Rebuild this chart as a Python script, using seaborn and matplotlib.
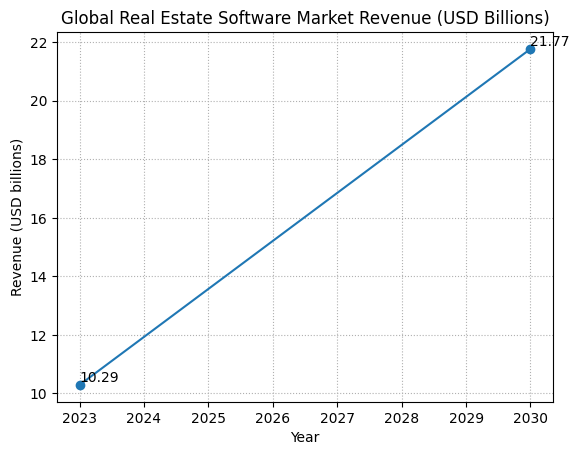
import matplotlib
matplotlib.use("Agg")
from matplotlib import pyplot as plt
import seaborn as sns

years = [2023, 2030]
revenue = [10.29, 21.77]
point_labels = ["10.29", "21.77"]

fig, ax = plt.subplots(figsize=(6.4, 4.8))

sns.lineplot(
    x=years,
    y=revenue,
    ax=ax,
    marker="o",
    color="#1f77b4",
    markersize=6,
    markeredgecolor="#1f77b4",
    markeredgewidth=1,
)

# labels start at the point, baseline a touch above it
for x, y, lab in zip(years, revenue, point_labels):
    ax.annotate(lab, (x, y), xytext=(0, 2), textcoords="offset points",
                ha="left", va="baseline", fontsize=10)

ax.set_title("Global Real Estate Software Market Revenue (USD Billions)")
ax.set_xlabel("Year")
ax.set_ylabel("Revenue (USD billions)")
ax.set_xticks(range(2023, 2031))
ax.grid(True, linestyle=":", color="#b0b0b0", linewidth=0.8)

plt.savefig("out.png", dpi=100, bbox_inches="tight")
